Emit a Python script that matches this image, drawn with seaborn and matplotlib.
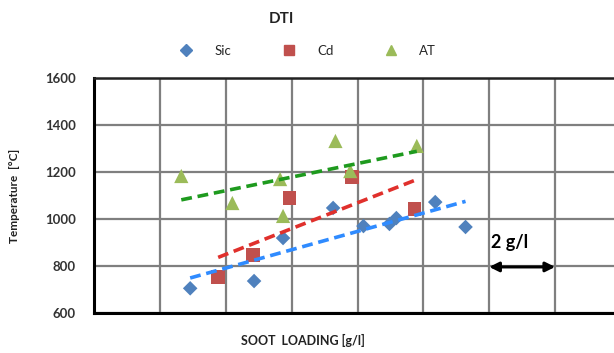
import matplotlib
matplotlib.use("Agg")
import matplotlib.pyplot as plt
from matplotlib.lines import Line2D
import seaborn as sns
import pandas as pd

# Soot loading [g/l] and peak temperature [°C] per substrate
sic_x = [2.92, 4.86, 5.74, 7.26, 8.18, 8.97, 9.18, 10.36, 11.28]
sic_y = [705, 736, 919, 1047, 970, 979, 1004, 1072, 966]

cd_x = [3.77, 4.83, 5.93, 7.84, 9.73]
cd_y = [753, 847, 1089, 1179, 1043]

at_x = [2.65, 4.20, 5.65, 5.74, 7.33, 7.78, 9.80]
at_y = [1183, 1068, 1170, 1013, 1332, 1204, 1311]

series_names = ["Sic", "Cd", "AT"]
y_ticks = [600, 800, 1000, 1200, 1400, 1600]

sns.set_theme(style="white")
plt.rcParams["font.family"] = ["Lato", "DejaVu Sans"]

fig = plt.figure(figsize=(6.14, 3.53), dpi=100)
ax = fig.add_axes([94 / 614, 40 / 353, 527 / 614, 235 / 353])

styles = [
    (sic_x, sic_y, "D", "#4F81BD", "#2F8BFF", 55),
    (cd_x, cd_y, "s", "#C0504D", "#E0302C", 95),
    (at_x, at_y, "^", "#9BBB59", "#1E9A1E", 105),
]

handles = []
for name, (xs, ys, mk, col, lcol, size) in zip(series_names, styles):
    df = pd.DataFrame({"x": xs, "y": ys})
    sns.scatterplot(data=df, x="x", y="y", marker=mk, color=col, s=size,
                    edgecolor="none", ax=ax, zorder=3, legend=False)
    sns.regplot(data=df, x="x", y="y", scatter=False, ci=None, ax=ax,
                line_kws=dict(color=lcol, lw=2.6, ls=(0, (3, 1.6)), zorder=4))
    handles.append(Line2D([], [], marker=mk, color=col, ls="none",
                          markersize=7 if mk != "D" else 6, label=name))

ax.set_xlim(0, 16)
ax.set_ylim(600, 1600)
ax.set_xticks(range(0, 17, 2))
ax.set_yticks(y_ticks)
ax.tick_params(axis="x", labelbottom=False, length=0)
ax.tick_params(axis="y", length=0, labelsize=9.5, pad=13)
for lab in ax.get_yticklabels():
    lab.set_fontweight("bold")
    lab.set_color("#333333")

ax.grid(True, color="#7f7f7f", lw=1.6)
ax.set_axisbelow(True)
for side in ["left", "bottom"]:
    ax.spines[side].set_color("black")
    ax.spines[side].set_linewidth(2.2)
ax.spines["top"].set_color("#222222")
ax.spines["top"].set_linewidth(1.8)
ax.spines["right"].set_visible(False)

ax.set_xlabel("")
ax.set_ylabel("")
fig.text(15 / 614, 1 - 196 / 353, "Temperature  [°C]", rotation=90,
         ha="center", va="center", fontsize=8.5, fontweight="bold", color="#222222")
fig.text(303 / 614, 1 - 340 / 353, "SOOT  LOADING [g/l]", ha="center",
         va="center", fontsize=9, fontweight="bold", color="#222222")
fig.text(281 / 614, 1 - 19 / 353, "DTI", ha="center", va="center",
         fontsize=11, fontweight="bold", color="#222222")

fig.legend(handles=handles, loc="center", bbox_to_anchor=(306 / 614, 1 - 51 / 353),
           ncol=3, frameon=False, fontsize=9.5, columnspacing=3.6,
           handletextpad=1.4, handlelength=1.5)

# scale bar: one grid cell equals 2 g/l
ax.annotate("", xy=(12.0, 796), xytext=(14.0, 796),
            arrowprops=dict(arrowstyle="<|-|>", color="black", lw=2.2,
                            mutation_scale=14, shrinkA=0, shrinkB=0))
ax.text(12.62, 900, "2 g/l", ha="center", va="center", fontsize=13,
        fontweight="bold", color="black")

fig.savefig("out.png", dpi=100)
